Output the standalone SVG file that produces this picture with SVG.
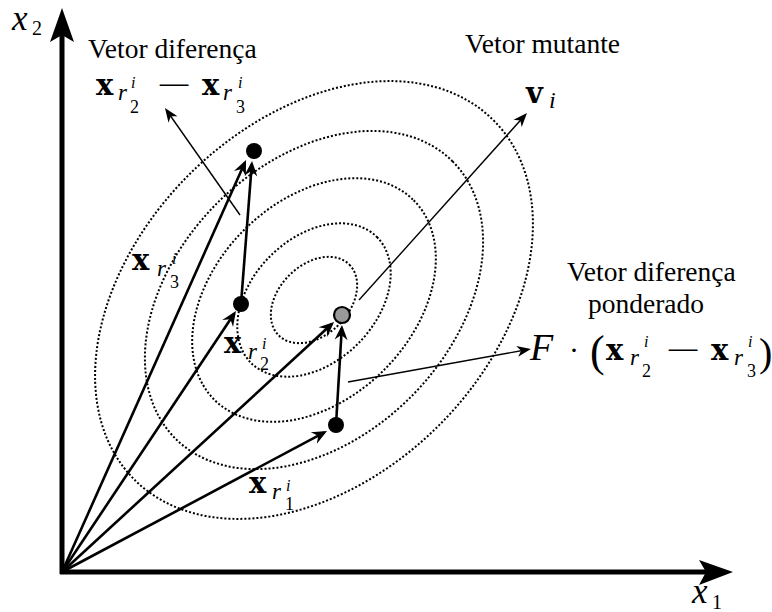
<svg xmlns="http://www.w3.org/2000/svg" width="772" height="612" viewBox="0 0 772 612">
<style>
.contour{fill:none;stroke:#000;stroke-width:2;stroke-dasharray:2 2}
.thick{fill:none;stroke:#000;stroke-width:2.6;marker-end:url(#stealth)}
.thin{fill:none;stroke:#000;stroke-width:1.4;marker-end:url(#stealthThin)}
.axis{fill:none;stroke:#000;stroke-width:5}
.pt{fill:#000}
.txt{font-family:'Liberation Serif','Times New Roman',serif;font-size:27.5px;fill:#000}
.bx{font-family:'DejaVu Serif',serif;font-weight:bold;font-size:29px;fill:#000}
.it{font-family:'Liberation Serif','Times New Roman',serif;font-style:italic;fill:#000}
.rm{font-family:'Liberation Serif','Times New Roman',serif;fill:#000}
.r{font-size:23px}
.sup{font-size:16px}
.sub{font-size:18px}
</style>
<defs>
<marker id="stealth" markerUnits="userSpaceOnUse" viewBox="-14 -8 20 16" markerWidth="20" markerHeight="16" refX="0" refY="0" orient="auto">
<path d="M3,0 L-12,-6.5 L-7,0 L-12,6.5 Z" fill="#000"/>
</marker>
<marker id="stealthThin" markerUnits="userSpaceOnUse" viewBox="-14 -8 20 16" markerWidth="20" markerHeight="16" refX="0" refY="0" orient="auto">
<path d="M3,0 L-11,-5.5 L-7,0 L-11,5.5 Z" fill="#000"/>
</marker>
</defs>
<rect width="772" height="612" fill="#fff"/>

<g id="contours">
<ellipse class="contour" cx="314" cy="300" rx="50" ry="35" transform="rotate(-45 314 300)"/>
<ellipse class="contour" cx="314" cy="300" rx="89" ry="62" transform="rotate(-45 314 300)"/>
<ellipse class="contour" cx="314" cy="300" rx="141" ry="99" transform="rotate(-45 314 300)"/>
<ellipse class="contour" cx="314" cy="300" rx="196" ry="137" transform="rotate(-45 314 300)"/>
<ellipse class="contour" cx="314" cy="300" rx="254" ry="177" transform="rotate(-45 314 300)"/>
</g>

<g id="axes">
<line class="axis" x1="62" y1="574" x2="62" y2="34"/>
<line class="axis" x1="60" y1="572" x2="708" y2="572"/>
<polygon points="62,8 74,42 62,35 50,42" fill="#000"/>
<polygon points="733,572 699,560 706,572 699,585" fill="#000"/>
<g id="label-x2"><text class="it" x="12" y="30" font-size="35">x</text><text class="rm" x="32" y="35" font-size="20">2</text></g>
<g id="label-x1"><text class="it" x="692" y="603" font-size="35">x</text><text class="rm" x="712" y="609" font-size="20">1</text></g>
</g>

<g id="connectors">
<line class="thick" x1="62" y1="572" x2="244.8" y2="162.7"/>
<line class="thick" x1="241" y1="304" x2="251.8" y2="164"/>
<line class="thick" x1="62" y1="572" x2="234.3" y2="313.5"/>
<line class="thick" x1="62" y1="572" x2="331.8" y2="324"/>
<line class="thick" x1="336" y1="425" x2="341.8" y2="328"/>
<line class="thick" x1="62" y1="572" x2="324.4" y2="432.4"/>
<line class="thin" x1="240" y1="215" x2="166.7" y2="110.5"/>
<line class="thin" x1="359" y1="300" x2="525" y2="115.2"/>
<line class="thin" x1="348" y1="382" x2="528" y2="349.5"/>
</g>

<g id="point-r3"><circle class="pt" cx="254" cy="151" r="8"/></g>
<g id="point-r2"><circle class="pt" cx="241" cy="304" r="8"/></g>
<g id="point-r1"><circle class="pt" cx="336" cy="425" r="8"/></g>
<g id="point-mutant"><circle cx="342" cy="315" r="8" fill="#999" stroke="#000" stroke-width="2.2"/></g>

<g id="label-diff">
<text class="txt" x="88" y="58">Vetor diferença</text>
<text class="bx" x="96" y="95">x</text>
<text class="it r" x="118" y="100">r</text>
<text class="it sup" x="131" y="88">i</text>
<text class="rm sub" x="130" y="113">2</text>
<text class="rm" x="157" y="95" font-size="30" textLength="35" lengthAdjust="spacingAndGlyphs">−</text>
<text class="bx" x="202" y="95">x</text>
<text class="it r" x="223" y="100">r</text>
<text class="it sup" x="238" y="88">i</text>
<text class="rm sub" x="236" y="113">3</text>
</g>

<g id="label-mutant">
<text class="txt" x="465" y="53">Vetor mutante</text>
<text class="bx" x="526" y="103">v</text>
<text class="it" x="549" y="108" font-size="24">i</text>
</g>

<g id="label-xr3">
<text class="bx" x="132" y="270">x</text>
<text class="it r" x="157" y="276">r</text>
<text class="it sup" x="172" y="264">i</text>
<text class="rm sub" x="170" y="288">3</text>
</g>

<g id="label-xr2">
<text class="bx" x="224" y="353">x</text>
<text class="it r" x="248" y="359">r</text>
<text class="it sup" x="262" y="349">i</text>
<text class="rm sub" x="260" y="370">2</text>
</g>

<g id="label-xr1">
<text class="bx" x="249" y="493">x</text>
<text class="it r" x="272" y="499">r</text>
<text class="it sup" x="286" y="491">i</text>
<text class="rm sub" x="285" y="510">1</text>
</g>

<g id="label-weighted">
<text class="txt" x="567" y="281">Vetor diferença</text>
<text class="txt" x="588" y="313">ponderado</text>
<text class="it" x="530" y="360" font-size="38">F</text>
<text class="rm" x="569" y="360" font-size="30">·</text>
<text class="rm" x="590" y="366" font-size="44">(</text>
<text class="bx" x="606" y="360">x</text>
<text class="it r" x="630" y="365">r</text>
<text class="it sup" x="644" y="347">i</text>
<text class="rm sub" x="642" y="377">2</text>
<text class="rm" x="666" y="360" font-size="30" textLength="35" lengthAdjust="spacingAndGlyphs">−</text>
<text class="bx" x="711" y="360">x</text>
<text class="it r" x="734" y="365">r</text>
<text class="it sup" x="748" y="347">i</text>
<text class="rm sub" x="747" y="377">3</text>
<text class="rm" x="759" y="366" font-size="40">)</text>
</g>
</svg>
